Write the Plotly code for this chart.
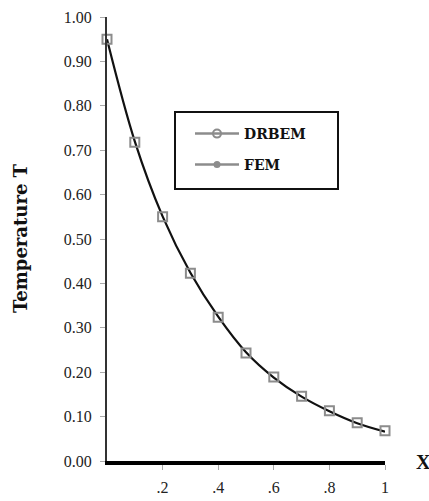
import plotly.graph_objects as go

# Data
x_vals = [0.0, 0.1, 0.2, 0.3, 0.4, 0.5, 0.6, 0.7, 0.8, 0.9, 1.0]
drbem_T = [0.950, 0.718, 0.550, 0.423, 0.324, 0.243, 0.189, 0.146, 0.113, 0.086, 0.068]
fem_T = [0.950, 0.720, 0.551, 0.424, 0.325, 0.245, 0.188, 0.145, 0.112, 0.085, 0.066]
y_ticks = [0.0, 0.1, 0.2, 0.3, 0.4, 0.5, 0.6, 0.7, 0.8, 0.9, 1.0]
y_ticktext = ["0.00", "0.10", "0.20", "0.30", "0.40", "0.50", "0.60", "0.70", "0.80", "0.90", "1.00"]
x_ticks = [0.2, 0.4, 0.6, 0.8, 1.0]
x_ticktext = [".2", ".4", ".6", ".8", "1"]

SERIF = "Liberation Serif"
WIDE_SERIF = "DejaVu Serif"
GRAY = "#8c8c8c"

fig = go.Figure()

# FEM curve (black line)
fig.add_trace(go.Scatter(
    x=x_vals, y=fem_T, mode="lines", line=dict(color="#111", width=2.2, shape="spline"),
    showlegend=False, cliponaxis=False))
# DRBEM markers (grey open squares)
fig.add_trace(go.Scatter(
    x=x_vals, y=drbem_T, mode="markers",
    marker=dict(symbol="square-open", size=9, color=GRAY, line=dict(width=2, color=GRAY)),
    showlegend=False, cliponaxis=False))

# legend-only entries
fig.add_trace(go.Scatter(
    x=[None], y=[None], mode="lines+markers", name="DRBEM",
    line=dict(color=GRAY, width=2.5),
    marker=dict(symbol="circle-open", size=8, color=GRAY, line=dict(width=2, color=GRAY)),
    legend="legend"))
fig.add_trace(go.Scatter(
    x=[None], y=[None], mode="lines+markers", name="FEM",
    line=dict(color=GRAY, width=2.5),
    marker=dict(symbol="circle", size=7, color=GRAY),
    legend="legend2"))

OFF = 0  # page body margin removed via post_script
W, H = 429 - OFF, 501 - OFF
L, T = 107 - OFF, 17 - OFF
pw, ph = 278, 444
R, B = W - L - pw, H - T - ph

def px(xr):
    return (xr - OFF - L) / pw

def py(yr):
    return (T + ph - (yr - OFF)) / ph

leg_common = dict(bgcolor="rgba(0,0,0,0)", borderwidth=0, itemwidth=44,
                  font=dict(family=WIDE_SERIF, size=14, color="#111", weight="bold"),
                  xanchor="left", yanchor="middle", itemclick=False)

fig.update_layout(
    width=W, height=H,
    margin=dict(l=L, r=R, t=T, b=B, pad=0, autoexpand=False),
    plot_bgcolor="white", paper_bgcolor="white",
    legend=dict(x=px(190), y=py(134), **leg_common),
    legend2=dict(x=px(190), y=py(165), **leg_common),
    shapes=[dict(type="rect", xref="paper", yref="paper",
                 x0=px(175), x1=px(338), y0=py(189), y1=py(112),
                 line=dict(color="#111", width=2))],
    annotations=[
        dict(text="<b>Temperature T</b>", xref="paper", yref="paper",
             x=px(20), y=py(238), textangle=-90, showarrow=False,
             font=dict(family=WIDE_SERIF, size=18, color="#111"),
             xanchor="center", yanchor="middle"),
        dict(text="<b>X</b>", xref="paper", yref="paper",
             x=px(423), y=py(462), showarrow=False,
             font=dict(family=SERIF, size=20, color="#111"),
             xanchor="center", yanchor="middle"),
    ],
)

fig.update_yaxes(range=[0, 1], tickvals=y_ticks, ticktext=y_ticktext,
                 showline=True, linecolor="#333", linewidth=2,
                 ticks="outside", ticklen=5, tickcolor="#aaa", tickwidth=1,
                 ticklabelstandoff=5,
                 showgrid=False, zeroline=False, automargin=False,
                 tickfont=dict(family=SERIF, size=16, color="#222"))
fig.update_xaxes(range=[0, 1], tickvals=x_ticks, ticktext=x_ticktext,
                 showline=True, linecolor="#000", linewidth=4,
                 ticks="outside", ticklen=5, tickcolor="#aaa", tickwidth=1,
                 ticklabelstandoff=4,
                 showgrid=False, zeroline=False, automargin=False,
                 tickfont=dict(family=SERIF, size=16, color="#222"))

fig.write_html("out.html", config={"displayModeBar": False},
               post_script="document.body.style.margin='0';document.body.style.overflow='hidden';")
